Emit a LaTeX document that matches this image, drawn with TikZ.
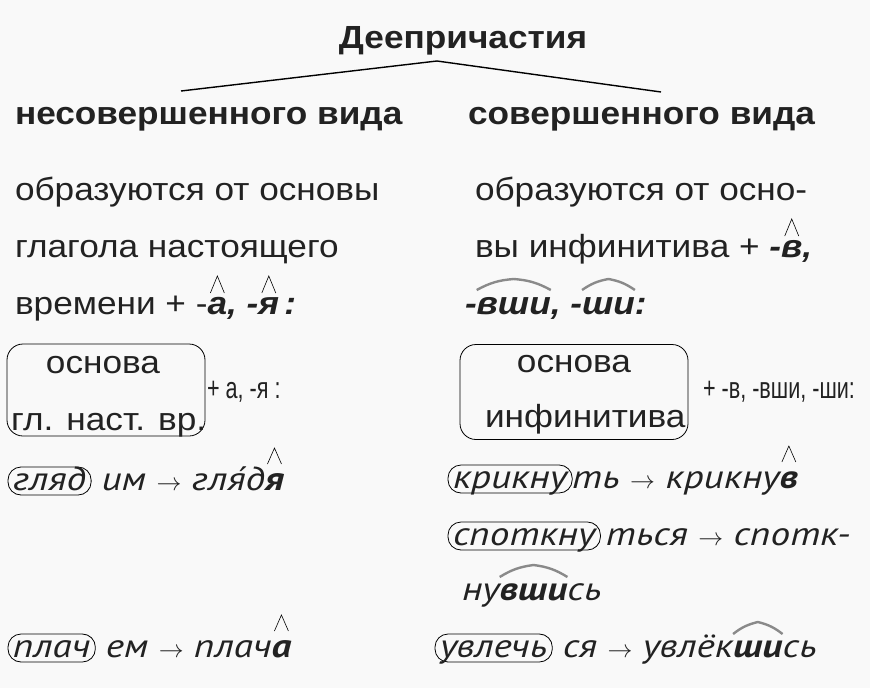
\documentclass[tikz,border=0pt]{standalone}
\usepackage{fontspec}
\setmainfont[FakeStretch=1.1]{Liberation Sans}
\newfontfamily\exfont[FakeStretch=1.19]{PT Sans}
\newfontfamily\narrowfont[FakeStretch=0.72]{Liberation Sans}
\usetikzlibrary{positioning}
\definecolor{bgcol}{HTML}{F9F9F9}
\definecolor{inkcol}{HTML}{222222}
\definecolor{roofcol}{HTML}{8A8A8A}

\tikzset{
  txt/.style={inner sep=0pt, outer sep=0pt, anchor=base west, text=inkcol, font=\fontsize{32}{32}\selectfont},
  hd/.style={txt, font=\fontsize{32}{32}\selectfont\bfseries},
  bi/.style={txt, font=\fontsize{32}{32}\selectfont\bfseries\itshape},
  nar/.style={txt, font=\narrowfont\fontsize{30}{30}\selectfont},
  ex/.style={txt, font=\exfont\fontsize{33}{33}\selectfont\itshape},
  exb/.style={txt, font=\exfont\fontsize{33}{33}\selectfont\bfseries\itshape},
  root/.style={ex, draw=black, thick, rounded corners=13pt, inner xsep=5pt, inner ysep=1pt, text height=22pt, text depth=4pt},
  frame/.style={draw=black, thick, rounded corners=16pt, inner sep=0pt},
  hatline/.style={line width=0.6pt, black},
  roof/.style={line width=2.4pt, roofcol}
}

\begin{document}
\begin{tikzpicture}[x=1pt, y=-1pt]
		% Background
		\fill[bgcol] (0,0) rectangle (870,688);
		\useasboundingbox (0,0) rectangle (870,688);

		% Title and branches
		\node[hd, anchor=base] (title) at (463,48) {Деепричастия};
		\coordinate (apex) at (437,61);
		\coordinate (leftend) at (181,91);
		\coordinate (rightend) at (661,92);
		\draw[line width=1.4pt] (leftend) -- (apex) -- (rightend);
		\node[hd] (headL) at (15,124) {несовершенного вида};
		\node[hd] (headR) at (468,124) {совершенного вида};

		% Left column
		\node[txt] (L1) at (15,200) {образуются от основы};
		\node[txt] (L2) at (15,257) {глагола настоящего};
		\node[txt] (L3a) at (15,314) {времени + -};
		\node[bi] (L3b) at (L3a.base east) {а};
		\node[bi] (L3c) at (L3b.base east) {, -};
		\node[bi] (L3d) at (L3c.base east) {я};
		\node[bi] (L3e) at (L3d.base east) {\,:};
		\draw[hatline] ([xshift=-7pt,yshift=21pt]L3b.base) -- ([yshift=38pt]L3b.base) -- ([xshift=7pt,yshift=21pt]L3b.base);
		\draw[hatline] ([xshift=-7pt,yshift=21pt]L3d.base) -- ([yshift=38pt]L3d.base) -- ([xshift=7pt,yshift=21pt]L3d.base);

		% Right column
		\node[txt] (R1) at (475,200) {образуются от осно-};
		\node[txt] (R2a) at (475,257) {вы инфинитива +};
		\node[bi] (R2b) at (R2a.base east) {~-};
		\node[bi] (R2c) at (R2b.base east) {в};
		\node[bi] (R2d) at (R2c.base east) {,};
		\draw[hatline] ([xshift=-7pt,yshift=21pt]R2c.base) -- ([yshift=38pt]R2c.base) -- ([xshift=7pt,yshift=21pt]R2c.base);
		\node[bi] (R3a) at (465,314) {-};
		\node[bi] (R3b) at (R3a.base east) {вши};
		\node[bi] (R3c) at (R3b.base east) {, -};
		\node[bi] (R3d) at (R3c.base east) {ши};
		\node[bi] (R3e) at (R3d.base east) {:};
		\draw[roof] ([yshift=24pt]R3b.base west) to[bend left=12] ([yshift=35pt]R3b.base) to[bend left=12] ([yshift=24pt]R3b.base east);
		\draw[roof] ([yshift=24pt]R3d.base west) to[bend left=12] ([yshift=35pt]R3d.base) to[bend left=12] ([yshift=24pt]R3d.base east);

		% Formula boxes
		\node[frame, minimum width=198pt, minimum height=92pt] (boxL) at (106,390) {};
		\node[txt, anchor=base] (osnL) at (103,373) {основа};
		\node[txt] (glL) at (11,430) {гл. наст. вр.};
		\node[nar] (plusL) at (207,398) {+ а, -я :};
		\node[frame, minimum width=228pt, minimum height=95pt] (boxR) at (574,392) {};
		\node[txt, anchor=base] (osnR) at (574,372) {основа};
		\node[txt] (infR) at (485,427) {инфинитива};
		\node[nar] (plusR) at (703,398) {+ -в, -вши, -ши:};

		% Examples, left
		\node[root] (gl1) at (8,490) {гляд};
		\node[ex] (gl2) at (gl1.base east) {~им $\rightarrow$ гля́д};
		\node[exb] (gl3) at (gl2.base east) {я};
		\draw[hatline] ([xshift=-7pt,yshift=26pt]gl3.base) -- ([yshift=42pt]gl3.base) -- ([xshift=7pt,yshift=26pt]gl3.base);
		\node[root] (pl1) at (8,657) {плач};
		\node[ex] (pl2) at (pl1.base east) {~ем $\rightarrow$ плач};
		\node[exb] (pl3) at (pl2.base east) {а};
		\draw[hatline] ([xshift=-7pt,yshift=26pt]pl3.base) -- ([yshift=42pt]pl3.base) -- ([xshift=7pt,yshift=26pt]pl3.base);

		% Examples, right
		\node[root] (kr1) at (448,488) {крикну};
		\node[ex] (kr2) at (kr1.base east) {ть $\rightarrow$ крикну};
		\node[exb] (kr3) at (kr2.base east) {в};
		\draw[hatline] ([xshift=-7pt,yshift=26pt]kr3.base) -- ([yshift=42pt]kr3.base) -- ([xshift=7pt,yshift=26pt]kr3.base);
		\node[root] (sp1) at (448,545) {споткну};
		\node[ex] (sp2) at (sp1.base east) {\,ться $\rightarrow$ спотк-};
		\node[ex] (nu1) at (462,600) {ну};
		\node[exb] (nu2) at (nu1.base east) {вши};
		\node[ex] (nu3) at (nu2.base east) {сь};
		\draw[roof] ([yshift=23pt]nu2.base west) to[bend left=12] ([yshift=35pt]nu2.base) to[bend left=12] ([yshift=23pt]nu2.base east);
		\node[root] (uv1) at (435,657) {увлечь};
		\node[ex] (uv2) at (uv1.base east) {~ся $\rightarrow$ увлёк};
		\node[exb] (uv3) at (uv2.base east) {ши};
		\node[ex] (uv4) at (uv3.base east) {сь};
		\draw[roof] ([yshift=23pt]uv3.base west) to[bend left=12] ([yshift=35pt]uv3.base) to[bend left=12] ([yshift=23pt]uv3.base east);
	\end{tikzpicture}
\end{document}
